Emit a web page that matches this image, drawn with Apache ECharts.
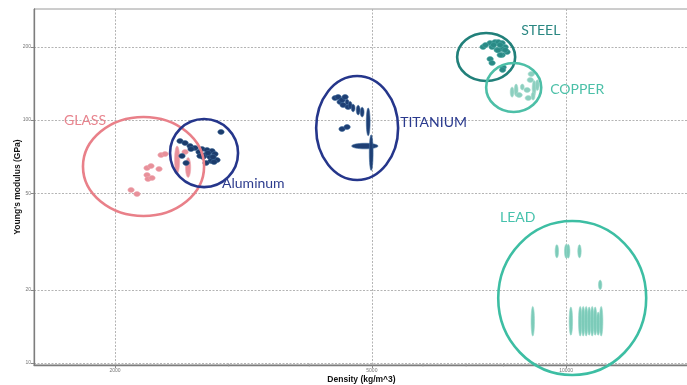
<!DOCTYPE html>
<html><head><meta charset="utf-8">
<script src="https://cdn.jsdelivr.net/npm/echarts@6/dist/echarts.min.js"></script>
<style>html,body{margin:0;padding:0;background:#fff}#c{width:687px;height:385px}</style>
</head><body><div id="c"></div>
<script>
// Each point: [density (kg/m^3), Young's modulus (GPa), density error, modulus error]
const glassPoints = [
  [2118,51.6,0,0],[2163,49.6,0,0],[2242,63.5,0,0],[2274,64.7,0,0],[2340,62.9,0,0],
  [2242,59.4,0,0],[2250,57.2,0,0],[2282,57.8,0,0],[2357,71.8,0,0],[2391,72.5,0,0],
  [2496,69.2,0,9],[2568,73.9,0,0],[2596,64.1,0,6]
];
const aluminumPoints = [
  [2522,82.0,0,0],[2568,80.5,0,0],[2614,78.2,0,0],[2661,76.8,0,0],[2699,73.9,0,0],
  [2728,76.0,0,0],[2777,75.3,0,0],[2827,74.6,0,0],[2758,71.8,0,0],[2807,70.5,0,0],
  [2857,72.5,0,0],[2878,68.5,0,0],[2817,67.9,0,0],[2767,66.6,0,0],[2738,70.5,0,0],
  [2919,89.4,0,0],[2540,71.2,0,0],[2577,66.6,0,0],[2623,76.0,0,0],[2787,73.2,0,0],
  [2837,70.5,0,0],[2708,71.2,0,0],[2847,67.2,0,0]
];
const titaniumPoints = [
  [4386,123.3,0,0],[4433,124.5,0,0],[4465,118.8,0,0],[4496,121.0,0,0],[4545,124.5,0,0],
  [4513,115.4,0,0],[4577,118.8,0,3],[4594,113.2,0,0],[4627,115.4,0,4],[4677,112.2,0,4],
  [4762,110.1,0,5],[4830,108.0,0,5],[4496,91.9,0,0],[4577,93.7,0,0],[4935,99.2,0,13],
  [4882,78.2,230,0],[4988,74.5,0,12.5]
];
const steelPoints = [
  [7624,207.7,0,0],[7761,209.7,0,0],[7850,209.7,0,0],[7958,207.7,0,0],[8044,200.0,0,0],
  [8101,190.7,0,0],[7958,185.4,0,0],[7820,194.4,0,0],[7435,200.0,0,0],[7678,200.0,0,0],
  [7958,196.3,0,0],[7500,203.8,0,0],[7900,203.8,0,0],[8044,194.4,0,0],[7720,203.8,0,0],
  [7904,185.4,0,0],[7840,194.0,0,0],[7624,178.5,0,0],[7678,171.9,0,0],[7986,165.0,0,0],
  [7970,161.0,0,0]
];
const copperPoints = [
  [8246,130.6,0,6.3],[8365,133.1,0,7.6],[8455,126.9,0,0],[8552,136.9,0,3.8],[8700,133.1,0,0],
  [8800,146.3,0,0],[8831,154.8,0,0],[8919,135.6,0,10],[9022,139.5,0,7],[8887,125.7,0,4.8],
  [8737,123.3,0,0]
];
const leadPoints = [
  [9674,28.9,0,1.8],[10001,28.9,0,1.9],[10073,28.9,0,1.9],[10487,28.9,0,1.8],
  [11290,21.0,0,0.95],
  [8877,15.0,0,2.1],[10170,15.0,0,2.0],[10513,15.0,0,2.1],[10626,15.0,0,2.1],[10740,15.0,0,2.1],
  [10856,15.0,0,2.0],[10973,15.0,0,2.1],[11091,15.0,0,2.0],[11210,14.6,0,1.6],[11331,15.0,0,2.1]
];

const groupNames = ['GLASS', 'Aluminum', 'TITANIUM', 'STEEL', 'COPPER', 'LEAD'];
// hand-drawn group ellipses: [density min, density max, modulus min, modulus max]
const groupEllipses = [
  [1784,2748,40.3,103],[2434,3102,53.0,101],[4099,5491,56.7,151.9],
  [6778,8337,144.9,228.4],[7517,9149,108.0,171.9],[7848,13305,8.92,38.4]
];
// label anchors: [density, modulus]
const groupLabelPos = [
  [1667,99.2],[2930,55.1],[5531,98.2],[8517,235],[9446,134.3],[7900,39.9]
];

const xTickValues = [2000, 5000, 10000];
const xMinorTickValues = [3000, 4000, 6000, 7000, 8000, 9000];
const yTickValues = [10, 20, 50, 100, 200];
const xRange = [1498, 15500];
const yRange = [9.81, 286.8];

// ---- styles ----
const pointStyle = {
  GLASS:    {fill:'#e8909a', stroke:'#eeaab1'},
  Aluminum: {fill:'#1c3c6c', stroke:'#3a6796'},
  TITANIUM: {fill:'#1e3f74', stroke:'#3d689a'},
  STEEL:    {fill:'#2a8a86', stroke:'#4aa8a2'},
  COPPER:   {fill:'#8ccfbf', stroke:'#a6dbce'},
  LEAD:     {fill:'#7ccbb9', stroke:'#96d6c7'}
};
const ringColor = ['#e98089', '#25368b', '#25368b', '#21807a', '#4dbfa7', '#3dbea3'];
const labelColor = ['#e8848e', '#2d3c8e', '#2a3a8e', '#2a8782', '#4cc0a8', '#47c2ad'];

function pointSeries(name, data) {
  const st = pointStyle[name];
  return {
    type: 'custom', name: name, data: data, z: 3,
    renderItem: function (params, api) {
      const x = api.value(0), y = api.value(1), ex = api.value(2), ey = api.value(3);
      const c = api.coord([x, y]);
      let cx = c[0], cy = c[1], rx = 3.2, ry = 2.5;
      if (ey > 0) {
        const a = api.coord([x, y - ey]), b = api.coord([x, y + ey]);
        ry = Math.max(ry, Math.abs(a[1] - b[1]) / 2); cy = (a[1] + b[1]) / 2;
        rx = name === 'LEAD' ? 1.7 : (name === 'GLASS' ? 2.6 : 1.9);
      }
      if (ex > 0) {
        const a = api.coord([x - ex, y]), b = api.coord([x + ex, y]);
        rx = Math.max(rx, Math.abs(b[0] - a[0]) / 2); cx = (a[0] + b[0]) / 2;
        ry = 2.8;
      }
      return {type: 'ellipse', shape: {cx: cx, cy: cy, rx: rx, ry: ry},
        style: {fill: st.fill, stroke: st.stroke, lineWidth: 0.6}};
    }
  };
}

const chart = echarts.init(document.getElementById('c'), null, {renderer: 'canvas'});
const plainNumber = function (v) { return String(Math.round(v)); };
const axisCommon = {
  type: 'log', logBase: 10,
  axisLine: {show: true, lineStyle: {color: '#7d7d7d', width: 1.3}},
  axisTick: {show: true, length: 3, lineStyle: {color: '#888'}},
  splitLine: {show: true, lineStyle: {color: '#b4b4b4', type: [2, 1.5], width: 1}},
  axisLabel: {color: '#777', fontSize: 5, fontFamily: 'Liberation Sans', formatter: plainNumber},
  nameLocation: 'middle',
  nameMoveOverlap: false,
  nameTextStyle: {color: '#111', fontWeight: 'bold', fontSize: 8.5, fontFamily: 'Liberation Sans'}
};
chart.setOption({
  animation: false,
  backgroundColor: '#fff',
  grid: {left: 34, top: 9, right: -2, bottom: 20, containLabel: false, outerBoundsMode: 'none',
         show: true, borderColor: '#9a9a9a', borderWidth: 1},
  xAxis: Object.assign({}, axisCommon, {
    min: xRange[0], max: xRange[1],
    name: 'Density (kg/m^3)', nameGap: 10,
    axisTick: Object.assign({}, axisCommon.axisTick, {customValues: xTickValues}),
    axisLabel: Object.assign({}, axisCommon.axisLabel, {customValues: xTickValues, margin: 3})
  }),
  yAxis: Object.assign({}, axisCommon, {
    min: yRange[0], max: yRange[1],
    name: "Young's modulus (GPa)", nameGap: 12,
    axisTick: Object.assign({}, axisCommon.axisTick, {customValues: yTickValues}),
    axisLabel: Object.assign({}, axisCommon.axisLabel, {customValues: yTickValues, margin: 3})
  }),
  series: [
    pointSeries('GLASS', glassPoints),
    pointSeries('Aluminum', aluminumPoints),
    pointSeries('TITANIUM', titaniumPoints),
    pointSeries('STEEL', steelPoints),
    pointSeries('COPPER', copperPoints),
    pointSeries('LEAD', leadPoints),
    {
      type: 'custom', name: 'groups', z: 4, clip: false,
      data: groupEllipses.map(function (b, i) { return b.concat([i]); }),
      renderItem: function (params, api) {
        const p1 = api.coord([api.value(0), api.value(3)]);
        const p2 = api.coord([api.value(1), api.value(2)]);
        const i = api.value(4);
        return {type: 'ellipse',
          shape: {cx: (p1[0] + p2[0]) / 2, cy: (p1[1] + p2[1]) / 2,
                  rx: Math.abs(p2[0] - p1[0]) / 2, ry: Math.abs(p2[1] - p1[1]) / 2},
          style: {fill: 'none', stroke: ringColor[i], lineWidth: 2.6}};
      }
    },
    {
      type: 'custom', name: 'labels', z: 5, clip: false,
      data: groupLabelPos.map(function (p, i) { return p.concat([i]); }),
      renderItem: function (params, api) {
        const c = api.coord([api.value(0), api.value(1)]);
        const i = api.value(2);
        return {type: 'text', x: c[0], y: c[1],
          style: {text: groupNames[i], fill: labelColor[i], font: '14px Lato',
                  align: 'left', verticalAlign: 'middle'}};
      }
    },
    {
      type: 'scatter', name: 'minorTicks', silent: true, clip: false, z: 2,
      symbol: 'rect', symbolSize: [1, 3],
      itemStyle: {color: '#999'},
      data: xMinorTickValues.map(function (v) { return [v, yRange[0]]; })
    }
  ]
});
</script>
</body></html>
